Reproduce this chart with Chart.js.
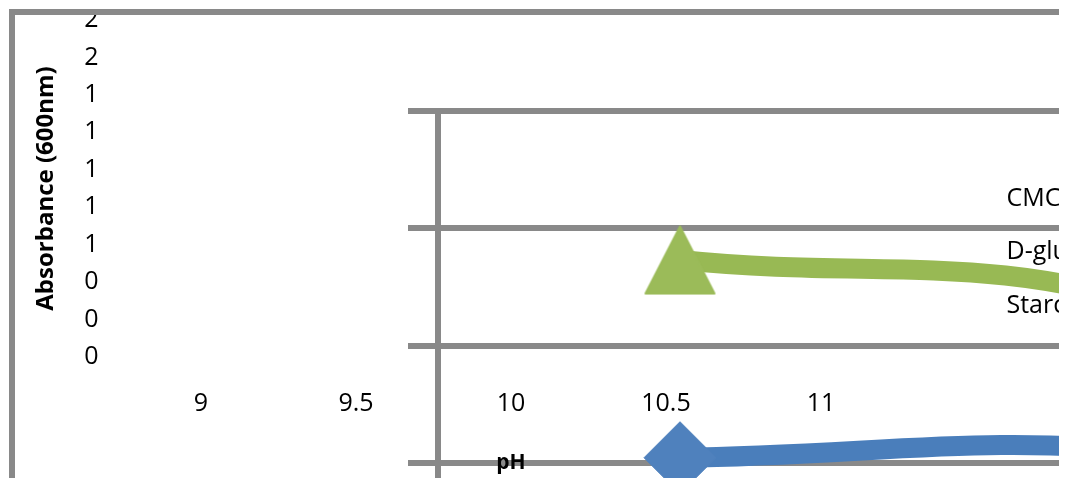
<!DOCTYPE html>
<html>
<head>
<meta charset="utf-8">
<script src="https://cdn.jsdelivr.net/npm/chart.js@4.4.1/dist/chart.umd.min.js"></script>
<style>
  html, body { margin: 0; padding: 0; background: #fff; overflow: hidden; width: 1067px; height: 478px; }
  #view { position: absolute; left: 0; top: 0; width: 1059px; height: 478px; overflow: hidden; }
  #frame { position: absolute; left: 9px; top: 9px; width: 1300px; height: 700px;
           border: 6px solid #898989; overflow: hidden; background: #fff; }
  #plotWrap { position: absolute; left: -15px; top: -15px; width: 2860px; height: 1170px; }
  #axisWrap { position: absolute; left: -15px; top: -15px; width: 1199px; height: 494px; }
  canvas { display: block; }
</style>
</head>
<body>
<div id="view">
  <div id="frame">
    <div id="plotWrap"><canvas id="plot" width="2860" height="1170"></canvas></div>
    <div id="axisWrap"><canvas id="axes" width="1199" height="494"></canvas></div>
  </div>
</div>
<script>
// pH categories and absorbance readings (600 nm)
const phCategories = ['9', '9.5', '10', '10.5', '11'];
const seriesNames = ['CMC', 'D-glucose', 'Starch'];
const cmcValues = [1.209, 1.218, 1.050];
const glucoseValues = [];
const starchValues = [1.546, 1.462, 1.017];

// absorbance axis: 0 to 1.8 in steps of 0.2, shown without decimals
const yTickLabels = ['0', '0', '0', '1', '1', '1', '1', '1', '2', '2'];
const yMin = 0;
const yMax = 1.8;
const yStep = 0.2;

const gridGray = '#898989';
Chart.defaults.font.family = "'Open Sans', sans-serif";
Chart.defaults.color = '#000';

// isosceles triangle marker for the starch series
function triangleMarker(color, w, h) {
  const c = document.createElement('canvas');
  c.width = w + 4;
  c.height = h + 4;
  const g = c.getContext('2d');
  g.fillStyle = color;
  g.strokeStyle = color;
  g.lineWidth = 2;
  g.lineJoin = 'round';
  g.beginPath();
  g.moveTo(c.width / 2, 2);
  g.lineTo(c.width - 2, c.height - 2);
  g.lineTo(2, c.height - 2);
  g.closePath();
  g.fill();
  g.stroke();
  return c;
}

// fixed axis box sizes, without the automatic label overhang
function fixWidth(w) {
  return scale => { scale.width = w; scale.paddingTop = 0; scale.paddingBottom = 0; };
}
function fixHeight(h) {
  return scale => { scale.height = h; scale.paddingLeft = 0; scale.paddingRight = 0; };
}

// plot layer: gridlines, value axis line and the series
new Chart(document.getElementById('plot'), {
  type: 'line',
  data: {
    labels: phCategories,
    datasets: [
      {
        label: seriesNames[0],
        data: cmcValues,
        borderColor: '#4A7EBB',
        backgroundColor: '#4F81BD',
        borderWidth: 20,
        borderCapStyle: 'round',
        tension: 0.4,
        pointStyle: 'rectRot',
        pointRadius: 36,
        pointBackgroundColor: '#4F81BD',
        pointBorderColor: '#4F81BD',
        pointBorderWidth: 1
      },
      {
        label: seriesNames[1],
        data: glucoseValues,
        borderColor: '#BE4B48',
        backgroundColor: '#C0504D',
        borderWidth: 20,
        tension: 0.4,
        pointStyle: 'rect',
        pointRadius: 30
      },
      {
        label: seriesNames[2],
        data: starchValues,
        borderColor: '#98B954',
        backgroundColor: '#9BBB59',
        borderWidth: 20,
        borderCapStyle: 'round',
        tension: 0.4,
        pointStyle: triangleMarker('#9BBB59', 69, 67),
        pointRadius: 35
      }
    ]
  },
  options: {
    responsive: false,
    animation: false,
    events: [],
    layout: { autoPadding: false, padding: { left: 408, top: 111, right: 2, bottom: 3 } },
    plugins: { legend: { display: false }, tooltip: { enabled: false } },
    scales: {
      x: { type: 'category', display: false, offset: true },
      y: {
        min: yMin,
        max: yMax,
        afterFit: fixWidth(30),
        ticks: { display: false, stepSize: yStep },
        grid: { color: gridGray, lineWidth: 6, tickLength: 30, drawTicks: true },
        border: { display: true, color: gridGray, width: 6 }
      }
    }
  }
});

// label layer: tick labels, axis titles and legend
new Chart(document.getElementById('axes'), {
  type: 'line',
  data: { labels: phCategories, datasets: [] },
  options: {
    responsive: false,
    animation: false,
    events: [],
    layout: { autoPadding: false, padding: { left: 0, top: 20, right: 100.5, bottom: 9.5 } },
    plugins: {
      tooltip: { enabled: false },
      legend: {
        display: true,
        position: 'right',
        align: 'center',
        fullSize: true,
        maxWidth: 200,
        labels: {
          font: { size: 25 },
          color: '#000',
          boxWidth: 67.25,
          boxHeight: 25,
          padding: 28.25,
          generateLabels: () => seriesNames.map((name, i) => ({
            text: name,
            fillStyle: 'rgba(0,0,0,0)',
            strokeStyle: 'rgba(0,0,0,0)',
            lineWidth: 0,
            hidden: false,
            datasetIndex: i
          }))
        }
      }
    },
    scales: {
      x: {
        type: 'category',
        offset: true,
        afterFit: fixHeight(127.5),
        grid: { display: false, drawTicks: false },
        border: { display: false },
        ticks: { font: { size: 25 }, color: '#000', padding: 31.5, maxRotation: 0, autoSkip: false },
        title: { display: true, text: 'pH', color: '#000',
                 font: { size: 21, weight: 'bold' }, padding: { top: 32.4, bottom: 8.4 } }
      },
      y: {
        min: yMin,
        max: yMax,
        afterFit: fixWidth(123.5),
        grid: { display: false, drawTicks: false },
        border: { display: false },
        ticks: { stepSize: yStep, font: { size: 25 }, color: '#000', padding: 25, autoSkip: false,
                 callback: (value, index) => yTickLabels[index] },
        title: { display: true, text: 'Absorbance (600nm)', color: '#000',
                 font: { size: 24, weight: 'bold' }, padding: { top: 31.3, bottom: 24.1 } }
      }
    }
  }
});
</script>
</body>
</html>
